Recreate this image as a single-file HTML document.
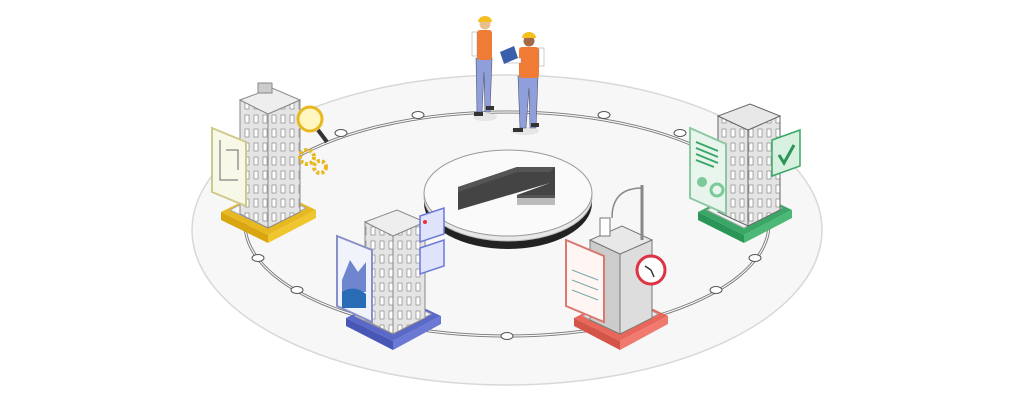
<!DOCTYPE html>
<html><head><meta charset="utf-8"><style>
html,body{margin:0;padding:0;background:#fff;width:1016px;height:400px;overflow:hidden}
</style></head><body>
<svg width="1016" height="400" viewBox="0 0 1016 400" xmlns="http://www.w3.org/2000/svg">
<defs>
<pattern id="win" width="9" height="14" patternUnits="userSpaceOnUse">
<rect width="9" height="14" fill="#e4e4e4"/><rect x="2" y="3" width="4" height="8" fill="#fff" stroke="#777" stroke-width="0.6"/>
</pattern>
</defs>
<ellipse cx="507" cy="230" rx="315" ry="155" fill="#f7f7f7" stroke="#d8d8d8" stroke-width="1.5"/>
<ellipse cx="507" cy="224" rx="262" ry="112" fill="none" stroke="#777" stroke-width="3"/>
<ellipse cx="507" cy="224" rx="262" ry="112" fill="none" stroke="#f7f7f7" stroke-width="1.2"/>
<g fill="#fff" stroke="#555" stroke-width="1">
<ellipse cx="341" cy="133" rx="6" ry="3.5"/><ellipse cx="418" cy="115" rx="6" ry="3.5"/>
<ellipse cx="604" cy="115" rx="6" ry="3.5"/><ellipse cx="680" cy="133" rx="6" ry="3.5"/>
<ellipse cx="258" cy="258" rx="6" ry="3.5"/><ellipse cx="297" cy="290" rx="6" ry="3.5"/>
<ellipse cx="507" cy="336" rx="6" ry="3.5"/><ellipse cx="716" cy="290" rx="6" ry="3.5"/>
<ellipse cx="755" cy="258" rx="6" ry="3.5"/>
</g>
<ellipse cx="508" cy="203" rx="84" ry="46" fill="#222"/>
<ellipse cx="508" cy="197" rx="84" ry="44" fill="#e8e8e8" stroke="#bbb"/>
<ellipse cx="508" cy="193" rx="84" ry="43" fill="#fafafa" stroke="#999"/>
<polygon points="458,187 517,167 555,167 555,195 517,195 550,183 458,210" fill="#444"/>
<polygon points="458,187 517,167 555,167 550,172 517,172 458,192" fill="#555"/>
<rect x="517" y="195" width="38" height="10" fill="#bbb"/>
<rect x="517" y="195" width="38" height="3" fill="#555"/>
<!-- workers -->
<g>
<ellipse cx="485" cy="117" rx="12" ry="4" fill="#e6e6e6"/>
<ellipse cx="525" cy="131" rx="14" ry="4" fill="#e6e6e6"/>
<path d="M476 58 h16 l-2 54 h-5 l-1 -40 l-2 40 h-5z" fill="#8f9fdc" stroke="#556" stroke-width="0.6"/>
<rect x="477" y="30" width="15" height="30" rx="3" fill="#ef7b35"/>
<rect x="472" y="32" width="5" height="24" fill="#fff" stroke="#999" stroke-width="0.5"/>
<circle cx="485" cy="24" r="5.5" fill="#e8c090"/>
<path d="M478 22 a7 6 0 0 1 14 0z" fill="#f3c020"/>
<rect x="474" y="112" width="9" height="4" fill="#333"/><rect x="486" y="106" width="8" height="4" fill="#333"/>
<path d="M518 76 h20 l-2 52 h-6 l-1 -40 l-3 40 h-6z" fill="#8f9fdc" stroke="#556" stroke-width="0.6"/>
<rect x="519" y="47" width="20" height="31" rx="3" fill="#ef7b35"/>
<rect x="505" y="58" width="16" height="5" fill="#fff" stroke="#999" stroke-width="0.5"/>
<rect x="539" y="48" width="5" height="18" fill="#fff" stroke="#999" stroke-width="0.5"/>
<circle cx="529" cy="41" r="5.5" fill="#a36a45"/>
<path d="M522 38 a7 6 0 0 1 14 0z" fill="#f3c020"/>
<polygon points="500,52 514,46 518,58 504,64" fill="#3a5faa"/>
<rect x="513" y="128" width="10" height="4" fill="#333"/><rect x="531" y="123" width="8" height="4" fill="#333"/>
</g>
<!-- yellow -->
<g>
<polygon points="221,212 270,188 316,210 268,235" fill="#e8b820"/>
<polygon points="221,212 268,235 268,243 221,220" fill="#d9a510"/>
<polygon points="268,235 316,210 316,218 268,243" fill="#f0c630"/>
<polygon points="230,210 268,228 306,208 268,190" fill="#f7f7f7" stroke="#aaa"/>
<polygon points="240,100 268,114 268,228 240,214" fill="url(#win)" stroke="#888"/>
<polygon points="268,114 300,100 300,212 268,228" fill="url(#win)" stroke="#888"/>
<polygon points="240,100 268,114 300,100 272,88" fill="#eee" stroke="#888"/>
<rect x="258" y="83" width="14" height="10" fill="#ccc" stroke="#888"/>
<polygon points="212,128 246,142 246,206 212,192" fill="#f8f8e8" stroke="#cfc98a" stroke-width="2"/>
<path d="M220 140 v40 h18 M226 150 h12 v20" fill="none" stroke="#666"/>
<circle cx="310" cy="119" r="12" fill="#fff6c0" stroke="#e8b820" stroke-width="3"/>
<line x1="318" y1="130" x2="327" y2="142" stroke="#333" stroke-width="4"/>
<circle cx="307" cy="157" r="7" fill="none" stroke="#e8b820" stroke-width="4" stroke-dasharray="3 2"/>
<circle cx="320" cy="167" r="6" fill="none" stroke="#e8b820" stroke-width="4" stroke-dasharray="3 2"/>
</g>
<!-- blue -->
<g>
<polygon points="346,318 394,294 441,316 393,341" fill="#5a68c8"/>
<polygon points="346,318 393,341 393,350 346,326" fill="#4856b5"/>
<polygon points="393,341 441,316 441,324 393,350" fill="#6b78d4"/>
<polygon points="355,316 393,334 431,314 393,296" fill="#f7f7f7" stroke="#aaa"/>
<polygon points="365,222 393,236 393,334 365,320" fill="url(#win)" stroke="#888"/>
<polygon points="393,236 425,222 425,318 393,334" fill="url(#win)" stroke="#888"/>
<polygon points="365,222 393,236 425,222 397,210" fill="#eee" stroke="#888"/>
<polygon points="337,236 372,250 372,322 337,306" fill="#f0f2fc" stroke="#8890c8" stroke-width="2"/>
<path d="M342 280 l8 -20 l8 12 l8 -10 v30 h-24z" fill="#6f86cf"/>
<path d="M342 292 q12 -8 24 2 v14 h-24z" fill="#2a6bb5"/>
<polygon points="420,216 444,208 444,234 420,242" fill="#dfe3fb" stroke="#6b78d4" stroke-width="1.5"/>
<polygon points="420,248 444,240 444,266 420,274" fill="#dfe3fb" stroke="#6b78d4" stroke-width="1.5"/>
<circle cx="425" cy="222" r="2" fill="#e33"/>
</g>
<!-- red -->
<g>
<polygon points="574,318 622,294 668,316 620,341" fill="#e8675a"/>
<polygon points="574,318 620,341 620,350 574,326" fill="#d45548"/>
<polygon points="620,341 668,316 668,324 620,350" fill="#f07a6e"/>
<polygon points="583,316 620,334 658,314 620,296" fill="#fbeeee" stroke="#aaa"/>
<polygon points="590,240 620,254 620,334 590,320" fill="#ccc" stroke="#777"/>
<polygon points="620,254 652,240 652,318 620,334" fill="#ddd" stroke="#777"/>
<polygon points="590,240 620,254 652,240 622,226" fill="#e8e8e8" stroke="#777"/>
<line x1="642" y1="185" x2="642" y2="240" stroke="#888" stroke-width="3"/>
<path d="M642 188 q-30 0 -30 30" fill="none" stroke="#888" stroke-width="1.5"/>
<rect x="600" y="218" width="10" height="18" fill="#fff" stroke="#777"/>
<polygon points="566,240 604,256 604,322 566,306" fill="#fff6f4" stroke="#d87870" stroke-width="2"/>
<path d="M572 270 l26 10 M572 280 l26 10 M572 290 l26 10" stroke="#7aa" stroke-width="1"/>
<circle cx="651" cy="270" r="14" fill="#fff" stroke="#d34" stroke-width="3"/>
<path d="M651 270 l-6 -4 M651 270 l3 7" stroke="#333" stroke-width="1.5"/>
</g>
<!-- green -->
<g>
<polygon points="698,212 746,188 792,210 744,235" fill="#3aa767"/>
<polygon points="698,212 744,235 744,243 698,220" fill="#2a9556"/>
<polygon points="744,235 792,210 792,218 744,243" fill="#4bb877"/>
<polygon points="707,210 744,228 782,208 744,190" fill="#eef7f1" stroke="#aaa"/>
<polygon points="718,116 748,130 748,226 718,212" fill="url(#win)" stroke="#666"/>
<polygon points="748,130 780,116 780,210 748,226" fill="url(#win)" stroke="#666"/>
<polygon points="718,116 748,130 780,116 750,104" fill="#e8e8e8" stroke="#666"/>
<polygon points="690,128 726,144 726,214 690,198" fill="#e7f5ec" stroke="#8cc8a2" stroke-width="2"/>
<path d="M696 142 l22 9 M696 148 l22 9 M696 154 l22 9 M696 160 l18 7" stroke="#3aa767" stroke-width="2"/>
<circle cx="702" cy="182" r="5" fill="#7bc99a"/><circle cx="717" cy="190" r="6" fill="none" stroke="#7bc99a" stroke-width="3"/>
<polygon points="772,140 800,130 800,166 772,176" fill="#d8f0e0" stroke="#3aa767" stroke-width="1.5"/>
<path d="M779 155 l5 8 l10 -18" fill="none" stroke="#2a9556" stroke-width="3"/>
</g>
</svg>
</body></html>
